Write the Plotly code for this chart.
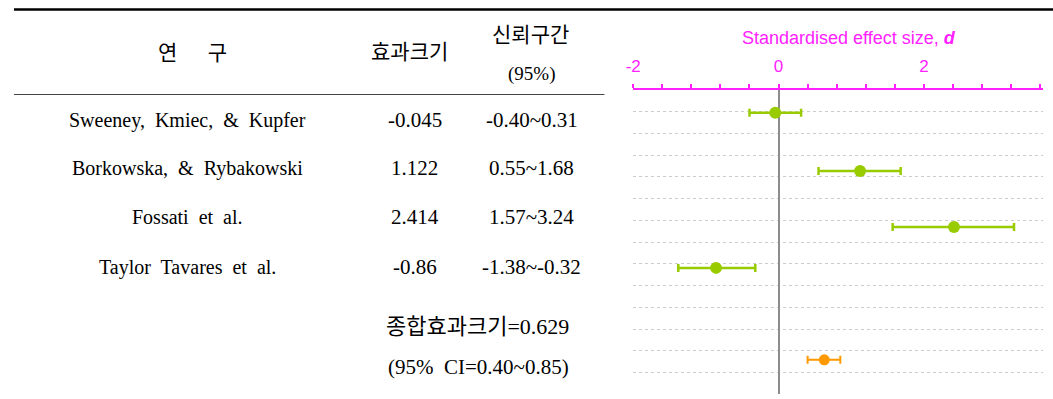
import plotly.graph_objects as go

# ---- data ----
studies = ["Sweeney,  Kmiec,  &  Kupfer", "Borkowska,  &  Rybakowski",
           "Fossati  et  al.", "Taylor  Tavares  et  al."]
effect = [-0.045, 1.122, 2.414, -0.86]
effect_labels = ["-0.045", "1.122", "2.414", "-0.86"]
ci_low = [-0.40, 0.55, 1.57, -1.38]
ci_high = [0.31, 1.68, 3.24, -0.32]
study_rows = [1.05, 3.72, 6.3, 8.18]

pooled = 0.629
pooled_low = 0.40
pooled_high = 0.85
pooled_row = 12.41

header = ["연\u3000  구", "효과크기", "신뢰구간", "(95%)"]
x_ticks = [-2, 0, 2]
axis_title = "Standardised effect size, <b><i>d</i></b>"

# ---- figure geometry ----
W, H = 1053, 399
def px(x):
    return x / W
def py(y):
    return 1 - y / H

GREEN = "#99cc00"
ORANGE = "#ff9900"
MAGENTA = "#ff22ff"
SERIF = "Liberation Serif, 'Noto Sans CJK KR', serif"
KFONT = "'Noto Sans CJK KR', Liberation Serif, serif"
SANS = "Arial, Liberation Sans, sans-serif"

fig = go.Figure()

fig.add_trace(go.Scatter(
    x=effect, y=study_rows, mode="markers",
    marker=dict(color=GREEN, size=12),
    error_x=dict(type="data", symmetric=False,
                 array=[h - e for h, e in zip(ci_high, effect)],
                 arrayminus=[e - l for e, l in zip(effect, ci_low)],
                 color=GREEN, thickness=2.5, width=4),
    showlegend=False, hoverinfo="skip"))

fig.add_trace(go.Scatter(
    x=[pooled], y=[pooled_row], mode="markers",
    marker=dict(color=ORANGE, size=11),
    error_x=dict(type="data", symmetric=False,
                 array=[pooled_high - pooled],
                 arrayminus=[pooled - pooled_low],
                 color=ORANGE, thickness=2, width=4),
    showlegend=False, hoverinfo="skip"))

fig.update_layout(
    width=W, height=H,
    margin=dict(l=0, r=0, t=0, b=0),
    paper_bgcolor="white", plot_bgcolor="white",
    xaxis=dict(
        domain=[px(630), px(1043)], range=[-2, 3.64], side="top",
        tickvals=x_ticks, ticktext=[str(v) for v in x_ticks],
        showline=True, linecolor=MAGENTA, linewidth=2,
        ticks="outside", ticklen=4, tickwidth=2, tickcolor=MAGENTA,
        minor=dict(tick0=-2, dtick=0.4, ticks="outside", ticklen=4,
                   tickwidth=2, tickcolor=MAGENTA, showgrid=False),
        tickfont=dict(family=SANS, size=17, color=MAGENTA),
        ticklabelstandoff=5,
        showgrid=False,
        zeroline=True, zerolinecolor="#8c8c8c", zerolinewidth=2,
        fixedrange=True,
    ),
    yaxis=dict(
        domain=[py(394), py(90)], range=[13.98, 0],
        tick0=0, dtick=1, showticklabels=False, ticks="",
        showgrid=True, gridcolor="#cccccc", gridwidth=1, griddash="dot",
        zeroline=False, showline=False, fixedrange=True,
    ),
)

# rules of the table
fig.add_shape(type="line", xref="paper", yref="paper",
              x0=px(6), x1=1, y0=py(9.5), y1=py(9.5),
              line=dict(color="black", width=2.5))
fig.add_shape(type="line", xref="paper", yref="paper",
              x0=px(6), x1=px(601), y0=py(94.5), y1=py(94.5),
              line=dict(color="#444444", width=1.2))

def text(x, y, s, size=20, family=SERIF, color="black"):
    fig.add_annotation(xref="paper", yref="paper", x=px(x), y=py(y),
                       text=s, showarrow=False, xanchor="center", yanchor="middle",
                       font=dict(family=family, size=size, color=color))

# header
text(186, 51, header[0], size=21, family=KFONT)
text(405, 50, header[1], size=21, family=KFONT)
text(527, 33, header[2], size=21, family=KFONT)
text(528, 74, header[3], size=19)

# rows
row_text_y = [120, 168, 217, 267]
for name, lab, lo, hi, ty in zip(studies, effect_labels, ci_low, ci_high, row_text_y):
    text(181, ty, name, size=20)
    text(410, ty, lab, size=21)
    text(528, ty, f"{lo:.2f}~{hi:.2f}", size=21)

text(473, 326, f"종합효과크기={pooled:.3f}", size=22)
text(474, 367, f"(95%  CI={pooled_low:.2f}~{pooled_high:.2f})", size=21)

# axis title
text(847, 38, axis_title, size=18, family=SANS, color=MAGENTA)

fig.write_html("out.html")
